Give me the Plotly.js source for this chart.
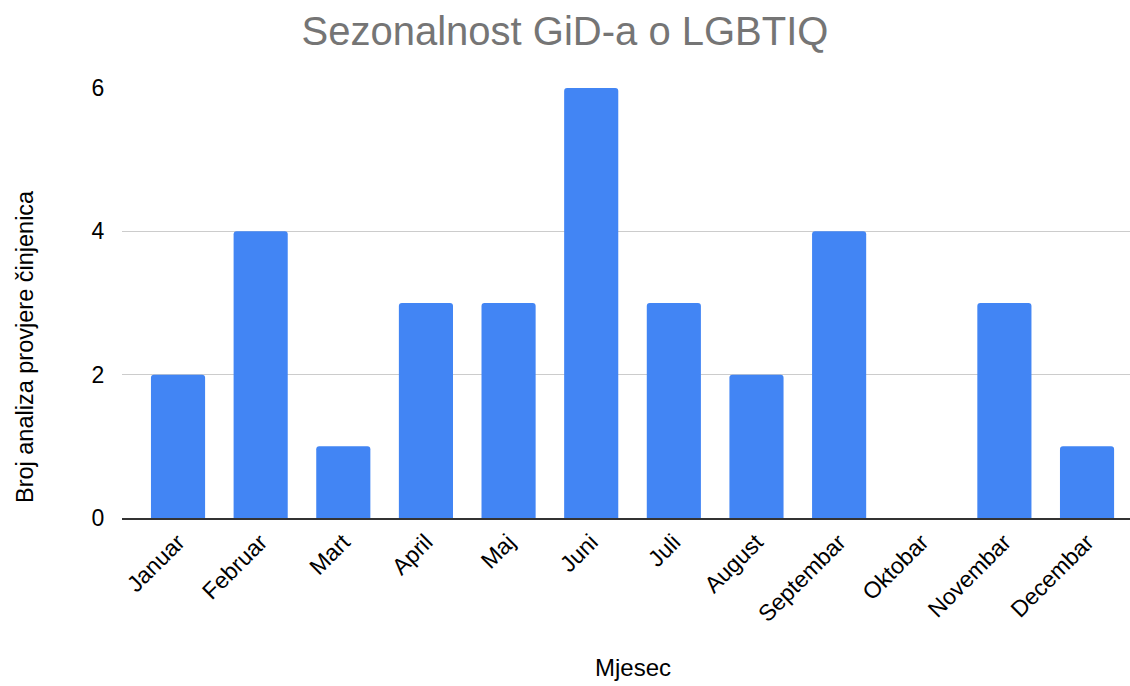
<!DOCTYPE html>
<html>
<head>
<meta charset="utf-8">
<script src="https://cdn.plot.ly/plotly-3.0.1.min.js"></script>
<style>html,body{margin:0;padding:0;background:#fff;}#chart{width:1130px;height:686px;}</style>
</head>
<body>
<div id="chart"></div>
<script>
const months = ["Januar","Februar","Mart","April","Maj","Juni","Juli","August","Septembar","Oktobar","Novembar","Decembar"];
const counts = [2,4,1,3,3,6,3,2,4,0,3,1];
const yTicks = [0,2,4,6];
const xTitle = "Mjesec";
const yTitle = "Broj analiza provjere činjenica";

const trace = {
  type: "bar",
  x: months,
  y: counts,
  marker: {color: "#4285F4", cornerradius: 3},
  hoverinfo: "x+y"
};

const FONT = "Liberation Sans, Arial, sans-serif";

const layout = {
  width: 1130,
  height: 686,
  margin: {l: 122, r: 0, t: 88, b: 168},
  paper_bgcolor: "#fff",
  plot_bgcolor: "#fff",
  font: {family: FONT, color: "#000", size: 23},
  bargap: 0.345,
  showlegend: false,
  title: {
    text: "Sezonalnost GiD-a o LGBTIQ",
    font: {size: 40, color: "#757575", family: FONT},
    xref: "container", x: 0.5, xanchor: "center",
    yref: "container", y: 0.955, yanchor: "middle"
  },
  xaxis: {
    type: "category",
    range: [-0.678, 11.52],
    tickangle: -45,
    tickfont: {size: 23, color: "#000"},
    showgrid: false,
    showline: true,
    linecolor: "#333",
    linewidth: 1.5,
    ticks: "",
    zeroline: false,
    automargin: false
  },
  yaxis: {
    range: [0, 6],
    tickvals: yTicks,
    ticktext: yTicks.map(String),
    tickfont: {size: 23, color: "#000"},
    showgrid: true,
    gridcolor: "#cccccc",
    gridwidth: 1,
    zeroline: false,
    showline: false,
    ticks: "outside",
    ticklen: 12,
    tickcolor: "rgba(0,0,0,0)",
    automargin: false
  },
  annotations: [
    {
      text: xTitle, showarrow: false,
      xref: "paper", yref: "paper",
      x: 0.5065, y: -0.3488, xanchor: "center", yanchor: "middle",
      font: {size: 24, color: "#000", family: FONT}
    },
    {
      text: yTitle, showarrow: false, textangle: -90,
      xref: "paper", yref: "paper",
      x: -0.0962, y: 0.3977, xanchor: "center", yanchor: "middle",
      font: {size: 23.5, color: "#000", family: FONT}
    }
  ]
};

Plotly.newPlot("chart", [trace], layout, {displayModeBar: false, staticPlot: true});
</script>
</body>
</html>
